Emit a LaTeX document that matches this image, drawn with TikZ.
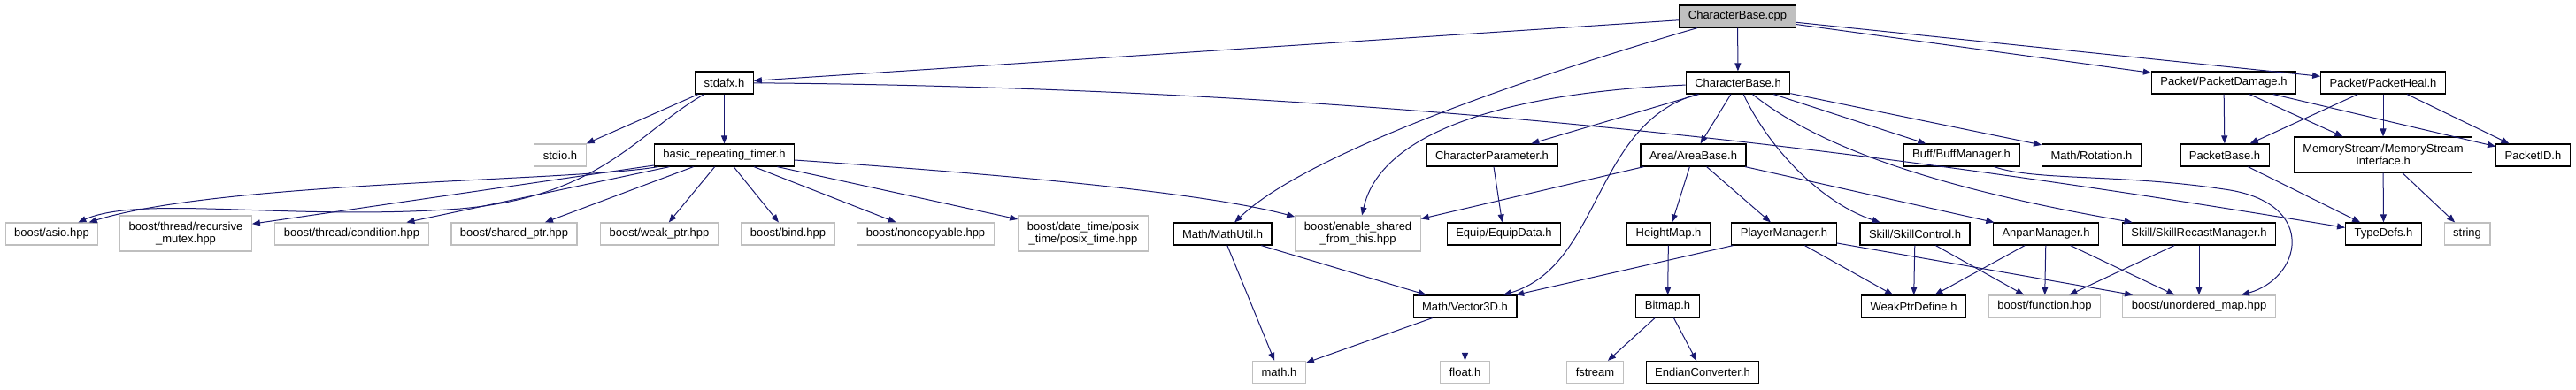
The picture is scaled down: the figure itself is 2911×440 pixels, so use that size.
\documentclass[tikz,border=0pt]{standalone}
\usepackage{fontspec}
\setmainfont{Liberation Sans}
\usetikzlibrary{arrows.meta}
\definecolor{edgenavy}{RGB}{25,25,112}
\definecolor{sysgray}{RGB}{191,191,191}

\begin{document}
\begin{tikzpicture}[x=1pt, y=-1pt,
    every node/.style={font=\fontsize{13}{14}\selectfont, inner xsep=10pt, inner ysep=0pt, minimum height=25pt},
    hdr/.style={draw=black, line width=1.2pt, fill=white},
    sys/.style={draw=sysgray, line width=1.2pt, fill=white},
    srcfile/.style={hdr, fill=sysgray},
    twoline/.style={align=center, minimum height=40pt},
    dep/.style={draw=edgenavy, line width=1pt, -{Triangle[length=9pt,width=7pt]}}]
    \useasboundingbox (0,0) rectangle (2911,440);

    % Source file
    \node[srcfile] (cpp) at (1963.5,18.5) {CharacterBase.cpp};

    % First level
    \node[hdr] (stdafx) at (818.5,93.5) {stdafx.h};
    \node[hdr] (chb) at (1964,93.5) {CharacterBase.h};
    \node[hdr] (pdmg) at (2513,93.5) {Packet/PacketDamage.h};
    \node[hdr] (pheal) at (2693,93.5) {Packet/PacketHeal.h};

    % Second level
    \node[sys] (stdio) at (633,175.5) {stdio.h};
    \node[hdr] (timer) at (818.5,175.5) {basic\_repeating\_timer.h};
    \node[hdr] (cparam) at (1686,175.5) {CharacterParameter.h};
    \node[hdr] (area) at (1913.5,175.5) {Area/AreaBase.h};
    \node[hdr] (buff) at (2216.5,175.5) {Buff/BuffManager.h};
    \node[hdr] (rot) at (2363.5,175.5) {Math/Rotation.h};
    \node[hdr] (pbase) at (2514,175.5) {PacketBase.h};
    \node[hdr, twoline] (msi) at (2693,175) {MemoryStream/MemoryStream\\Interface.h};
    \node[hdr] (pid) at (2862.5,175.5) {PacketID.h};

    % Third level
    \node[sys] (asio) at (58.5,264.5) {boost/asio.hpp};
    \node[sys, twoline] (rmutex) at (210,264) {boost/thread/recursive\\\_mutex.hpp};
    \node[sys] (cond) at (397.5,264.5) {boost/thread/condition.hpp};
    \node[sys] (sptr) at (581,264.5) {boost/shared\_ptr.hpp};
    \node[sys] (wptr) at (745,264.5) {boost/weak\_ptr.hpp};
    \node[sys] (bind) at (890.5,264.5) {boost/bind.hpp};
    \node[sys] (noncopy) at (1046,264.5) {boost/noncopyable.hpp};
    \node[sys, twoline] (ptime) at (1224,264) {boost/date\_time/posix\\\_time/posix\_time.hpp};
    \node[hdr] (mutil) at (1381.5,264.5) {Math/MathUtil.h};
    \node[sys, twoline] (eshared) at (1534.5,264) {boost/enable\_shared\\\_from\_this.hpp};
    \node[hdr] (equip) at (1699.5,264.5) {Equip/EquipData.h};
    \node[hdr] (hmap) at (1885.5,264.5) {HeightMap.h};
    \node[hdr] (pmgr) at (2016,264.5) {PlayerManager.h};
    \node[hdr] (sctrl) at (2164,264.5) {Skill/SkillControl.h};
    \node[hdr] (anpan) at (2312,264.5) {AnpanManager.h};
    \node[hdr] (srecast) at (2485,264.5) {Skill/SkillRecastManager.h};
    \node[hdr] (tdefs) at (2693.5,264.5) {TypeDefs.h};
    \node[sys] (string) at (2788,264.5) {string};

    % Fourth level
    \node[hdr] (vec) at (1655.5,346.5) {Math/Vector3D.h};
    \node[hdr] (bitmap) at (1884.5,346.5) {Bitmap.h};
    \node[hdr] (weak) at (2162.5,346.5) {WeakPtrDefine.h};
    \node[sys] (func) at (2310.5,346.5) {boost/function.hpp};
    \node[sys] (umap) at (2485,346.5) {boost/unordered\_map.hpp};

    % Fifth level
    \node[sys] (math) at (1445.5,421) {math.h};
    \node[sys] (float) at (1655.5,421) {float.h};
    \node[sys] (fstream) at (1802.5,421) {fstream};
    \node[hdr] (endian) at (1924,421) {EndianConverter.h};

    % Includes of the source file
    \draw[dep] (cpp) -- (stdafx);
    \draw[dep] (cpp) -- (chb);
    \draw[dep] (cpp) .. controls (1750,80) and (1480,170) .. (mutil);
    \draw[dep] (cpp) -- (pdmg);
    \draw[dep] (cpp) -- (pheal);

    % stdafx.h
    \draw[dep] (stdafx) -- (stdio);
    \draw[dep] (stdafx) -- (timer);
    \draw[dep] (stdafx) .. controls (720,150) and (680,222) .. (520,236) .. controls (330,250) and (160,220) .. (asio);
    \draw[dep] (stdafx) .. controls (1600,100) and (2150,175) .. (tdefs);

    % basic_repeating_timer.h
    \draw[dep] (timer) .. controls (650,205) and (250,205) .. (asio);
    \draw[dep] (timer) -- (rmutex);
    \draw[dep] (timer) -- (cond);
    \draw[dep] (timer) -- (sptr);
    \draw[dep] (timer) -- (wptr);
    \draw[dep] (timer) -- (bind);
    \draw[dep] (timer) -- (noncopy);
    \draw[dep] (timer) -- (ptime);
    \draw[dep] (timer) .. controls (1100,195) and (1350,215) .. (eshared);

    % CharacterBase.h
    \draw[dep] (chb) .. controls (1700,105) and (1560,150) .. (eshared);
    \draw[dep] (chb) -- (cparam);
    \draw[dep] (chb) .. controls (1800,140) and (1810,300) .. (vec);
    \draw[dep] (chb) -- (area);
    \draw[dep] (chb) .. controls (2000,170) and (2060,230) .. (sctrl);
    \draw[dep] (chb) .. controls (2060,170) and (2200,215) .. (srecast);
    \draw[dep] (chb) -- (buff);
    \draw[dep] (chb) -- (rot);

    % Packet headers
    \draw[dep] (pdmg) -- (pbase);
    \draw[dep] (pdmg) -- (msi);
    \draw[dep] (pdmg) -- (pid);
    \draw[dep] (pheal) -- (pbase);
    \draw[dep] (pheal) -- (msi);
    \draw[dep] (pheal) -- (pid);
    \draw[dep] (pbase) -- (tdefs);
    \draw[dep] (msi) -- (tdefs);
    \draw[dep] (msi) -- (string);

    % Second level headers
    \draw[dep] (cparam) -- (equip);
    \draw[dep] (area) -- (eshared);
    \draw[dep] (area) -- (hmap);
    \draw[dep] (area) -- (pmgr);
    \draw[dep] (area) -- (anpan);
    \draw[dep] (buff) .. controls (2300,205) and (2400,196) .. (2520,215) .. controls (2620,232) and (2600,315) .. (umap);

    % Third level headers
    \draw[dep] (mutil) -- (math);
    \draw[dep] (mutil) -- (vec);
    \draw[dep] (hmap) -- (bitmap);
    \draw[dep] (pmgr) -- (vec);
    \draw[dep] (pmgr) -- (weak);
    \draw[dep] (pmgr) -- (umap);
    \draw[dep] (sctrl) -- (weak);
    \draw[dep] (sctrl) -- (func);
    \draw[dep] (anpan) -- (weak);
    \draw[dep] (anpan) -- (func);
    \draw[dep] (anpan) -- (umap);
    \draw[dep] (srecast) -- (func);
    \draw[dep] (srecast) -- (umap);

    % Fourth level headers
    \draw[dep] (vec) -- (math);
    \draw[dep] (vec) -- (float);
    \draw[dep] (bitmap) -- (fstream);
    \draw[dep] (bitmap) -- (endian);
\end{tikzpicture}
\end{document}
